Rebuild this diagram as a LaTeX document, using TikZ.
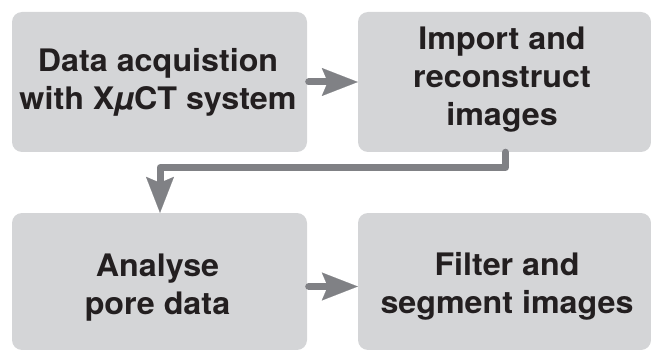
\documentclass[tikz,border=0pt]{standalone}
\usepackage{fontspec}
\setmainfont{TeX Gyre Heros}[FakeStretch=1.04]
\usetikzlibrary{arrows.meta}
\definecolor{boxgray}{RGB}{212,213,215}
\definecolor{arrgray}{RGB}{128,129,133}
\definecolor{txtblack}{RGB}{35,31,32}
\begin{document}
\begin{tikzpicture}[x=1pt,y=-1pt,
  box/.style={fill=boxgray, draw=none, rounded corners=10pt, inner sep=0pt},
  boxtext/.style={inner sep=0pt, anchor=north, align=center, text=txtblack,
    font=\fontsize{31}{38}\selectfont\bfseries},
  conn/.style={draw=arrgray, line width=7pt, line cap=round, line join=round,
    -{Stealth[length=36pt,width=28pt,inset=6pt,line width=0.1pt]}}
]
\useasboundingbox (0,0) rectangle (651,350);
% boxes
\node[box, minimum width=295pt, minimum height=140pt] (a) at (159.5,82) {};
\node[box, minimum width=293pt, minimum height=140pt] (b) at (504.5,82) {};
\node[box, minimum width=295pt, minimum height=137pt] (c) at (159.5,281.5) {};
\node[box, minimum width=293pt, minimum height=137pt] (d) at (504.5,281.5) {};
% texts
\node[boxtext] (ta) at (158,48.5) {Data acquistion\\with X{\itshape µ}CT system};
\node[boxtext] (tb) at (502,27) {Import and\\reconstruct\\images};
\node[boxtext] (tc) at (157.5,254) {Analyse\\pore data};
\node[boxtext] (td) at (507,252) {Filter and\\segment images};
% connectors
\draw[conn] ([xshift=1.5pt]a.east) -- (b.west);
\coordinate (bend) at (505.5,167.5);
\draw[conn] (b.south -| bend) -- (bend) -| ([xshift=0.5pt]c.north);
\draw[conn] ([yshift=-5pt,xshift=1.5pt]c.east) -- ([yshift=-5pt]d.west);
\end{tikzpicture}
\end{document}
